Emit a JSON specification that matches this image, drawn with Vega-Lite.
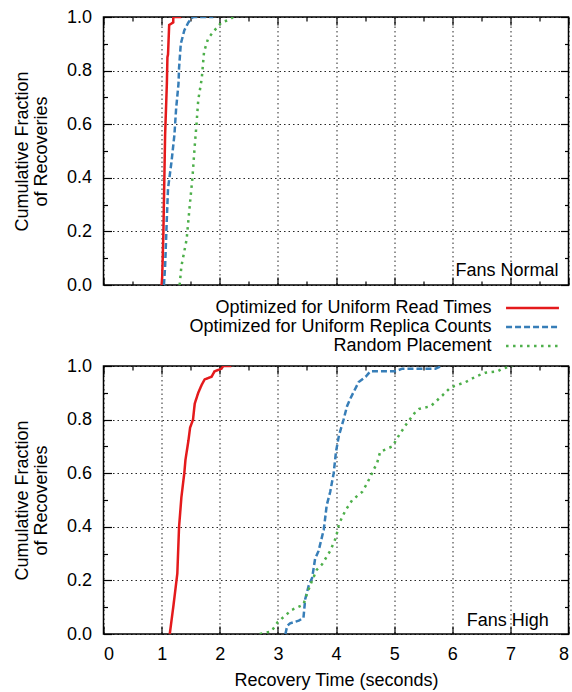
{
  "$schema": "https://vega.github.io/schema/vega-lite/v6.json",
  "padding": {"left": 12.5, "top": 7, "right": 2, "bottom": 0},
  "config": {
    "font": "Liberation Sans",
    "view": {"stroke": "black", "strokeWidth": 1.5},
    "axis": {
      "labelFont": "Liberation Sans", "labelFontSize": 18, "labelColor": "black",
      "titleFont": "Liberation Sans", "titleFontSize": 18, "titleFontWeight": "normal", "titleColor": "black",
      "domain": false, "grid": true, "gridColor": "black", "gridDash": [1.5, 3],
      "tickColor": "black", "tickWidth": 1.2, "labelPadding": 20
    },
    "legend": {
      "labelFont": "Liberation Sans", "labelFontSize": 18, "labelColor": "black",
      "symbolType": "M-5,0H5", "symbolSize": 112, "symbolStrokeWidth": 2.5, "symbolOffset": 20,
      "labelAlign": "right", "labelOffset": -50, "labelLimit": 0, "rowPadding": 1
    },
    "concat": {"spacing": 61}
  },
  "datasets": {
    "normal": [
      {"series": "Optimized for Uniform Read Times", "i": 0, "x": 1.0, "y": 0},
      {"series": "Optimized for Uniform Read Times", "i": 1, "x": 1.01, "y": 0.03},
      {"series": "Optimized for Uniform Read Times", "i": 2, "x": 1.03, "y": 0.19},
      {"series": "Optimized for Uniform Read Times", "i": 3, "x": 1.06, "y": 0.56},
      {"series": "Optimized for Uniform Read Times", "i": 4, "x": 1.09, "y": 0.75},
      {"series": "Optimized for Uniform Read Times", "i": 5, "x": 1.10, "y": 0.85},
      {"series": "Optimized for Uniform Read Times", "i": 6, "x": 1.11, "y": 0.86},
      {"series": "Optimized for Uniform Read Times", "i": 7, "x": 1.13, "y": 0.97},
      {"series": "Optimized for Uniform Read Times", "i": 8, "x": 1.2, "y": 0.98},
      {"series": "Optimized for Uniform Read Times", "i": 9, "x": 1.2, "y": 1.0},
      {"series": "Optimized for Uniform Read Times", "i": 10, "x": 1.34, "y": 1.0},
      {"series": "Optimized for Uniform Replica Counts", "i": 0, "x": 1.04, "y": 0},
      {"series": "Optimized for Uniform Replica Counts", "i": 1, "x": 1.06, "y": 0.07},
      {"series": "Optimized for Uniform Replica Counts", "i": 2, "x": 1.09, "y": 0.25},
      {"series": "Optimized for Uniform Replica Counts", "i": 3, "x": 1.11, "y": 0.36},
      {"series": "Optimized for Uniform Replica Counts", "i": 4, "x": 1.17, "y": 0.46},
      {"series": "Optimized for Uniform Replica Counts", "i": 5, "x": 1.22, "y": 0.56},
      {"series": "Optimized for Uniform Replica Counts", "i": 6, "x": 1.25, "y": 0.66},
      {"series": "Optimized for Uniform Replica Counts", "i": 7, "x": 1.29, "y": 0.75},
      {"series": "Optimized for Uniform Replica Counts", "i": 8, "x": 1.30, "y": 0.81},
      {"series": "Optimized for Uniform Replica Counts", "i": 9, "x": 1.33, "y": 0.90},
      {"series": "Optimized for Uniform Replica Counts", "i": 10, "x": 1.39, "y": 0.95},
      {"series": "Optimized for Uniform Replica Counts", "i": 11, "x": 1.46, "y": 0.98},
      {"series": "Optimized for Uniform Replica Counts", "i": 12, "x": 1.54, "y": 1.0},
      {"series": "Optimized for Uniform Replica Counts", "i": 13, "x": 1.89, "y": 1.0},
      {"series": "Random Placement", "i": 0, "x": 1.31, "y": 0},
      {"series": "Random Placement", "i": 1, "x": 1.34, "y": 0.07},
      {"series": "Random Placement", "i": 2, "x": 1.43, "y": 0.17},
      {"series": "Random Placement", "i": 3, "x": 1.49, "y": 0.31},
      {"series": "Random Placement", "i": 4, "x": 1.53, "y": 0.40},
      {"series": "Random Placement", "i": 5, "x": 1.57, "y": 0.52},
      {"series": "Random Placement", "i": 6, "x": 1.60, "y": 0.60},
      {"series": "Random Placement", "i": 7, "x": 1.63, "y": 0.69},
      {"series": "Random Placement", "i": 8, "x": 1.69, "y": 0.77},
      {"series": "Random Placement", "i": 9, "x": 1.73, "y": 0.87},
      {"series": "Random Placement", "i": 10, "x": 1.80, "y": 0.92},
      {"series": "Random Placement", "i": 11, "x": 1.91, "y": 0.95},
      {"series": "Random Placement", "i": 12, "x": 2.03, "y": 0.98},
      {"series": "Random Placement", "i": 13, "x": 2.17, "y": 0.99},
      {"series": "Random Placement", "i": 14, "x": 2.23, "y": 1.0}
    ],
    "high": [
      {"series": "Optimized for Uniform Read Times", "i": 0, "x": 1.14, "y": 0},
      {"series": "Optimized for Uniform Read Times", "i": 1, "x": 1.2, "y": 0.1},
      {"series": "Optimized for Uniform Read Times", "i": 2, "x": 1.27, "y": 0.225},
      {"series": "Optimized for Uniform Read Times", "i": 3, "x": 1.30, "y": 0.40},
      {"series": "Optimized for Uniform Read Times", "i": 4, "x": 1.34, "y": 0.51},
      {"series": "Optimized for Uniform Read Times", "i": 5, "x": 1.39, "y": 0.60},
      {"series": "Optimized for Uniform Read Times", "i": 6, "x": 1.41, "y": 0.65},
      {"series": "Optimized for Uniform Read Times", "i": 7, "x": 1.46, "y": 0.72},
      {"series": "Optimized for Uniform Read Times", "i": 8, "x": 1.49, "y": 0.77},
      {"series": "Optimized for Uniform Read Times", "i": 9, "x": 1.54, "y": 0.80},
      {"series": "Optimized for Uniform Read Times", "i": 10, "x": 1.57, "y": 0.86},
      {"series": "Optimized for Uniform Read Times", "i": 11, "x": 1.63, "y": 0.90},
      {"series": "Optimized for Uniform Read Times", "i": 12, "x": 1.69, "y": 0.93},
      {"series": "Optimized for Uniform Read Times", "i": 13, "x": 1.74, "y": 0.95},
      {"series": "Optimized for Uniform Read Times", "i": 14, "x": 1.86, "y": 0.96},
      {"series": "Optimized for Uniform Read Times", "i": 15, "x": 1.91, "y": 0.98},
      {"series": "Optimized for Uniform Read Times", "i": 16, "x": 2.03, "y": 0.99},
      {"series": "Optimized for Uniform Read Times", "i": 17, "x": 2.06, "y": 1.0},
      {"series": "Optimized for Uniform Read Times", "i": 18, "x": 2.2, "y": 1.0},
      {"series": "Optimized for Uniform Replica Counts", "i": 0, "x": 3.13, "y": 0},
      {"series": "Optimized for Uniform Replica Counts", "i": 1, "x": 3.16, "y": 0.03},
      {"series": "Optimized for Uniform Replica Counts", "i": 2, "x": 3.21, "y": 0.04},
      {"series": "Optimized for Uniform Replica Counts", "i": 3, "x": 3.36, "y": 0.05},
      {"series": "Optimized for Uniform Replica Counts", "i": 4, "x": 3.44, "y": 0.06},
      {"series": "Optimized for Uniform Replica Counts", "i": 5, "x": 3.47, "y": 0.13},
      {"series": "Optimized for Uniform Replica Counts", "i": 6, "x": 3.53, "y": 0.18},
      {"series": "Optimized for Uniform Replica Counts", "i": 7, "x": 3.59, "y": 0.21},
      {"series": "Optimized for Uniform Replica Counts", "i": 8, "x": 3.64, "y": 0.28},
      {"series": "Optimized for Uniform Replica Counts", "i": 9, "x": 3.70, "y": 0.31},
      {"series": "Optimized for Uniform Replica Counts", "i": 10, "x": 3.79, "y": 0.39},
      {"series": "Optimized for Uniform Replica Counts", "i": 11, "x": 3.84, "y": 0.48},
      {"series": "Optimized for Uniform Replica Counts", "i": 12, "x": 3.90, "y": 0.53},
      {"series": "Optimized for Uniform Replica Counts", "i": 13, "x": 3.96, "y": 0.60},
      {"series": "Optimized for Uniform Replica Counts", "i": 14, "x": 4.0, "y": 0.68},
      {"series": "Optimized for Uniform Replica Counts", "i": 15, "x": 4.05, "y": 0.74},
      {"series": "Optimized for Uniform Replica Counts", "i": 16, "x": 4.13, "y": 0.80},
      {"series": "Optimized for Uniform Replica Counts", "i": 17, "x": 4.19, "y": 0.85},
      {"series": "Optimized for Uniform Replica Counts", "i": 18, "x": 4.25, "y": 0.88},
      {"series": "Optimized for Uniform Replica Counts", "i": 19, "x": 4.39, "y": 0.94},
      {"series": "Optimized for Uniform Replica Counts", "i": 20, "x": 4.51, "y": 0.96},
      {"series": "Optimized for Uniform Replica Counts", "i": 21, "x": 4.59, "y": 0.98},
      {"series": "Optimized for Uniform Replica Counts", "i": 22, "x": 5.02, "y": 0.98},
      {"series": "Optimized for Uniform Replica Counts", "i": 23, "x": 5.14, "y": 0.99},
      {"series": "Optimized for Uniform Replica Counts", "i": 24, "x": 5.71, "y": 0.99},
      {"series": "Optimized for Uniform Replica Counts", "i": 25, "x": 5.82, "y": 1.0},
      {"series": "Random Placement", "i": 0, "x": 2.69, "y": 0},
      {"series": "Random Placement", "i": 1, "x": 2.89, "y": 0.01},
      {"series": "Random Placement", "i": 2, "x": 3.0, "y": 0.045},
      {"series": "Random Placement", "i": 3, "x": 3.24, "y": 0.09},
      {"series": "Random Placement", "i": 4, "x": 3.44, "y": 0.11},
      {"series": "Random Placement", "i": 5, "x": 3.50, "y": 0.15},
      {"series": "Random Placement", "i": 6, "x": 3.59, "y": 0.20},
      {"series": "Random Placement", "i": 7, "x": 3.67, "y": 0.24},
      {"series": "Random Placement", "i": 8, "x": 3.76, "y": 0.26},
      {"series": "Random Placement", "i": 9, "x": 3.90, "y": 0.31},
      {"series": "Random Placement", "i": 10, "x": 4.0, "y": 0.36},
      {"series": "Random Placement", "i": 11, "x": 4.05, "y": 0.41},
      {"series": "Random Placement", "i": 12, "x": 4.16, "y": 0.46},
      {"series": "Random Placement", "i": 13, "x": 4.28, "y": 0.50},
      {"series": "Random Placement", "i": 14, "x": 4.45, "y": 0.53},
      {"series": "Random Placement", "i": 15, "x": 4.53, "y": 0.56},
      {"series": "Random Placement", "i": 16, "x": 4.62, "y": 0.60},
      {"series": "Random Placement", "i": 17, "x": 4.71, "y": 0.64},
      {"series": "Random Placement", "i": 18, "x": 4.76, "y": 0.68},
      {"series": "Random Placement", "i": 19, "x": 4.97, "y": 0.70},
      {"series": "Random Placement", "i": 20, "x": 5.08, "y": 0.74},
      {"series": "Random Placement", "i": 21, "x": 5.20, "y": 0.78},
      {"series": "Random Placement", "i": 22, "x": 5.37, "y": 0.83},
      {"series": "Random Placement", "i": 23, "x": 5.43, "y": 0.84},
      {"series": "Random Placement", "i": 24, "x": 5.63, "y": 0.85},
      {"series": "Random Placement", "i": 25, "x": 5.83, "y": 0.89},
      {"series": "Random Placement", "i": 26, "x": 5.97, "y": 0.92},
      {"series": "Random Placement", "i": 27, "x": 6.23, "y": 0.94},
      {"series": "Random Placement", "i": 28, "x": 6.40, "y": 0.96},
      {"series": "Random Placement", "i": 29, "x": 6.57, "y": 0.975},
      {"series": "Random Placement", "i": 30, "x": 6.78, "y": 0.98},
      {"series": "Random Placement", "i": 31, "x": 6.86, "y": 0.99},
      {"series": "Random Placement", "i": 32, "x": 7.03, "y": 1.0}
    ]
  },
  "vconcat": [
    {
      "width": 465, "height": 268,
      "resolve": {"axis": {"x": "independent", "y": "independent"}},
      "layer": [
        {
          "data": {"name": "normal"},
          "mark": {"type": "line", "strokeWidth": 2.5, "clip": true},
          "encoding": {
            "x": {"field": "x", "type": "quantitative", "scale": {"domain": [0, 8], "nice": false},
                  "axis": {"values": [0, 0.5, 1, 1.5, 2, 2.5, 3, 3.5, 4, 4.5, 5, 5.5, 6, 6.5, 7, 7.5, 8], "labels": false, "title": null, "labelPadding": 8,
                           "tickSize": {"condition": {"test": "datum.value % 1 == 0", "value": -8}, "value": -4},
                           "gridOpacity": {"condition": {"test": "datum.value % 1 == 0", "value": 0.85}, "value": 0}}},
            "y": {"field": "y", "type": "quantitative", "scale": {"domain": [0, 1], "nice": false},
                  "axis": {"values": [0, 0.1, 0.2, 0.3, 0.4, 0.5, 0.6, 0.7, 0.8, 0.9, 1.0], "format": ".1f", "labelExpr": "round(datum.value * 10) % 2 == 0 ? datum.label : ''", "title": ["Cumulative Fraction", "of Recoveries"], "titlePadding": 16, "titleLineHeight": 19,
                           "tickSize": {"condition": {"test": "round(datum.value * 10) % 2 == 0", "value": -8}, "value": -4},
                           "gridOpacity": {"condition": {"test": "round(datum.value * 10) % 2 == 0", "value": 0.85}, "value": 0}}},
            "color": {"field": "series", "type": "nominal",
                      "scale": {"domain": ["Optimized for Uniform Read Times", "Optimized for Uniform Replica Counts", "Random Placement"], "range": ["#e41a1c", "#377eb8", "#4daf4a"]},
                      "legend": {"title": null, "orient": "none", "legendX": 400, "legendY": 282}},
            "strokeDash": {"field": "series", "type": "nominal",
                      "scale": {"domain": ["Optimized for Uniform Read Times", "Optimized for Uniform Replica Counts", "Random Placement"], "range": [[1, 0], [6, 3], [2.5, 4.5]]},
                      "legend": {"title": null, "orient": "none", "legendX": 400, "legendY": 282}},
            "order": {"field": "i", "type": "quantitative"}
          }
        },
        {
          "data": {"values": [{}]},
          "mark": {"type": "text", "align": "right", "baseline": "alphabetic", "fontSize": 18, "font": "Liberation Sans", "color": "black"},
          "encoding": {
            "x": {"datum": 7.83, "type": "quantitative",
                  "axis": {"orient": "top", "values": [0, 0.5, 1, 1.5, 2, 2.5, 3, 3.5, 4, 4.5, 5, 5.5, 6, 6.5, 7, 7.5, 8], "labels": false, "grid": false, "title": null,
                           "tickSize": {"condition": {"test": "datum.value % 1 == 0", "value": -8}, "value": -4}}},
            "y": {"datum": 0.035, "type": "quantitative",
                  "axis": {"orient": "right", "values": [0, 0.1, 0.2, 0.3, 0.4, 0.5, 0.6, 0.7, 0.8, 0.9, 1.0], "labels": false, "grid": false, "title": null,
                           "tickSize": {"condition": {"test": "round(datum.value * 10) % 2 == 0", "value": -8}, "value": -4}}},
            "text": {"value": "Fans Normal"}
          }
        }
      ]
    },
    {
      "width": 465, "height": 268,
      "resolve": {"axis": {"x": "independent", "y": "independent"}},
      "layer": [
        {
          "data": {"name": "high"},
          "mark": {"type": "line", "strokeWidth": 2.5, "clip": true},
          "encoding": {
            "x": {"field": "x", "type": "quantitative", "scale": {"domain": [0, 8], "nice": false},
                  "axis": {"values": [0, 0.5, 1, 1.5, 2, 2.5, 3, 3.5, 4, 4.5, 5, 5.5, 6, 6.5, 7, 7.5, 8], "format": "d", "labelExpr": "datum.value % 1 == 0 ? datum.label : ''", "title": "Recovery Time (seconds)", "labelPadding": 19, "titlePadding": 8,
                           "tickSize": {"condition": {"test": "datum.value % 1 == 0", "value": -8}, "value": -4},
                           "gridOpacity": {"condition": {"test": "datum.value % 1 == 0", "value": 0.85}, "value": 0}}},
            "y": {"field": "y", "type": "quantitative", "scale": {"domain": [0, 1], "nice": false},
                  "axis": {"values": [0, 0.1, 0.2, 0.3, 0.4, 0.5, 0.6, 0.7, 0.8, 0.9, 1.0], "format": ".1f", "labelExpr": "round(datum.value * 10) % 2 == 0 ? datum.label : ''", "title": ["Cumulative Fraction", "of Recoveries"], "titlePadding": 16, "titleLineHeight": 19,
                           "tickSize": {"condition": {"test": "round(datum.value * 10) % 2 == 0", "value": -8}, "value": -4},
                           "gridOpacity": {"condition": {"test": "round(datum.value * 10) % 2 == 0", "value": 0.85}, "value": 0}}},
            "color": {"field": "series", "type": "nominal",
                      "scale": {"domain": ["Optimized for Uniform Read Times", "Optimized for Uniform Replica Counts", "Random Placement"], "range": ["#e41a1c", "#377eb8", "#4daf4a"]},
                      "legend": {"title": null, "orient": "none", "legendX": 400, "legendY": 282}},
            "strokeDash": {"field": "series", "type": "nominal",
                      "scale": {"domain": ["Optimized for Uniform Read Times", "Optimized for Uniform Replica Counts", "Random Placement"], "range": [[1, 0], [6, 3], [2.5, 4.5]]},
                      "legend": {"title": null, "orient": "none", "legendX": 400, "legendY": 282}},
            "order": {"field": "i", "type": "quantitative"}
          }
        },
        {
          "data": {"values": [{}]},
          "mark": {"type": "text", "align": "right", "baseline": "alphabetic", "fontSize": 18, "font": "Liberation Sans", "color": "black"},
          "encoding": {
            "x": {"datum": 7.66, "type": "quantitative",
                  "axis": {"orient": "top", "values": [0, 0.5, 1, 1.5, 2, 2.5, 3, 3.5, 4, 4.5, 5, 5.5, 6, 6.5, 7, 7.5, 8], "labels": false, "grid": false, "title": null,
                           "tickSize": {"condition": {"test": "datum.value % 1 == 0", "value": -8}, "value": -4}}},
            "y": {"datum": 0.03, "type": "quantitative",
                  "axis": {"orient": "right", "values": [0, 0.1, 0.2, 0.3, 0.4, 0.5, 0.6, 0.7, 0.8, 0.9, 1.0], "labels": false, "grid": false, "title": null,
                           "tickSize": {"condition": {"test": "round(datum.value * 10) % 2 == 0", "value": -8}, "value": -4}}},
            "text": {"value": "Fans High"}
          }
        }
      ]
    }
  ]
}
